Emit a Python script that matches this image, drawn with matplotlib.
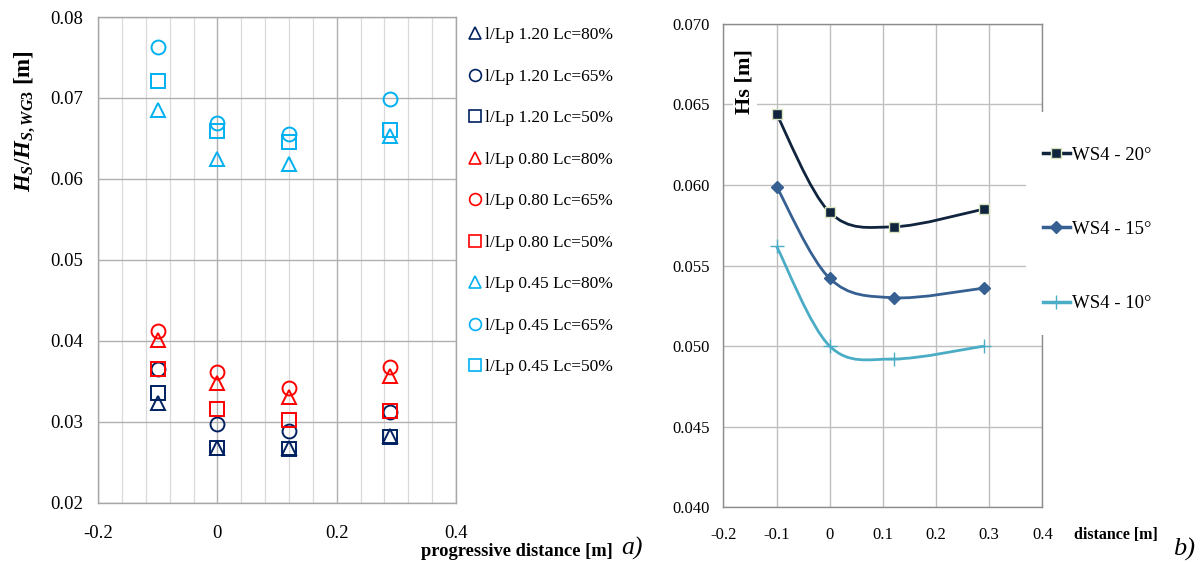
import numpy as np
import matplotlib
matplotlib.use("Agg")
import matplotlib.pyplot as plt
from matplotlib.path import Path
from matplotlib.patches import PathPatch, Rectangle
from matplotlib.lines import Line2D

plt.rcParams['font.family'] = ['Liberation Serif', 'DejaVu Serif']
plt.rcParams['mathtext.fontset'] = 'custom'
plt.rcParams['mathtext.it'] = 'Liberation Serif:italic:bold'
plt.rcParams['mathtext.rm'] = 'Liberation Serif:bold'
plt.rcParams['mathtext.bf'] = 'Liberation Serif:bold'

# ---- a) scatter: wave height ratio vs progressive distance ----
dist_a = [-0.1, 0.0, 0.12, 0.29]

# l/Lp = 1.20
r120_80 = [0.0323, 0.0267, 0.0267, 0.0282]
r120_65 = [0.0365, 0.0297, 0.0288, 0.0312]
r120_50 = [0.0336, 0.0267, 0.0266, 0.0281]
# l/Lp = 0.80
r080_80 = [0.0401, 0.0348, 0.0331, 0.0356]
r080_65 = [0.0412, 0.0361, 0.0342, 0.0368]
r080_50 = [0.0365, 0.0316, 0.0302, 0.0313]
# l/Lp = 0.45
r045_80 = [0.0685, 0.0625, 0.0619, 0.0653]
r045_65 = [0.0763, 0.0669, 0.0655, 0.0699]
r045_50 = [0.0721, 0.0659, 0.0645, 0.0660]

labels_a = ['l/Lp 1.20 Lc=80%', 'l/Lp 1.20 Lc=65%', 'l/Lp 1.20 Lc=50%',
            'l/Lp 0.80 Lc=80%', 'l/Lp 0.80 Lc=65%', 'l/Lp 0.80 Lc=50%',
            'l/Lp 0.45 Lc=80%', 'l/Lp 0.45 Lc=65%', 'l/Lp 0.45 Lc=50%']
series_a = [r120_80, r120_65, r120_50, r080_80, r080_65, r080_50,
            r045_80, r045_65, r045_50]

# ---- b) Hs along distance for the three wave directions ----
dist_b = [-0.1, 0.0, 0.12, 0.29]
hs_20 = [0.0644, 0.0583, 0.0574, 0.0585]
hs_15 = [0.0599, 0.0542, 0.0530, 0.0536]
hs_10 = [0.0562, 0.0500, 0.0492, 0.0500]
labels_b = ['WS4 - 20°', 'WS4 - 15°', 'WS4 - 10°']

navy = '#002060'
red = '#FF0000'
sky = '#00B0F0'
colors_a = [navy] * 3 + [red] * 3 + [sky] * 3
markers_a = ['^', 'o', 's'] * 3
msize_a = [10, 10, 9.5] * 3


def smooth_path(xs, ys):
    # Excel-like smoothed line: cubic Bezier through each point
    pts = np.column_stack([xs, ys])
    n = len(pts)
    verts = [pts[0]]
    codes = [Path.MOVETO]
    for i in range(n - 1):
        p0 = pts[i - 1] if i > 0 else pts[i]
        p1 = pts[i]
        p2 = pts[i + 1]
        p3 = pts[i + 2] if i + 2 < n else pts[i + 1]
        c1 = p1 + (p2 - p0) / 6.0
        c2 = p2 - (p3 - p1) / 6.0
        verts += [c1, c2, p2]
        codes += [Path.CURVE4] * 3
    return Path(verts, codes)


W, H = 1203, 562
fig = plt.figure(figsize=(W / 100, H / 100), dpi=100)

# ---------------- left panel ----------------
ax1 = fig.add_axes([0.0815, 0.1055, 0.2976, 0.8642])
for ys, c, m, ms, lab in zip(series_a, colors_a, markers_a, msize_a, labels_a):
    ax1.plot(dist_a, ys, linestyle='none', marker=m, markersize=ms,
             markerfacecolor='none', markeredgecolor=c, markeredgewidth=1.4,
             label=lab, zorder=3)

ax1.set_xlim(-0.2, 0.4)
ax1.set_ylim(0.02, 0.08)
ax1.set_xticks([-0.2, 0.0, 0.2, 0.4])
ax1.set_xticklabels(['-0.2', '0', '0.2', '0.4'])
ax1.set_xticks(np.arange(-0.2, 0.41, 0.04), minor=True)
yt = np.arange(0.02, 0.081, 0.01)
ax1.set_yticks(yt)
ax1.set_yticklabels(['%.2f' % v for v in yt])
ax1.tick_params(axis='both', which='both', length=0, labelsize=13.5)
ax1.tick_params(axis='y', pad=11)
ax1.tick_params(axis='x', pad=16)
ax1.grid(True, which='major', color='#B0B0B0', linewidth=1.0)
ax1.grid(True, which='minor', axis='x', color='#D9D9D9', linewidth=0.9)
ax1.set_axisbelow(True)
for sp in ax1.spines.values():
    sp.set_color('#A6A6A6')
    sp.set_linewidth(1.0)

ax1.set_ylabel(r'$H_S/H_{S,WG3}$ [m]', fontsize=16.5, fontweight='bold')
ax1.yaxis.set_label_coords(-0.17, 0.786)

handles = [Line2D([], [], linestyle='none', marker=m, markersize=ms * 0.85,
                  markerfacecolor='none', markeredgecolor=c, markeredgewidth=1.2)
           for c, m, ms in zip(colors_a, markers_a, msize_a)]
fig.legend(handles, labels_a, loc='upper left',
           bbox_to_anchor=(470 / W, 1 - 27 / H), frameon=False,
           fontsize=12.5, handlelength=0.6, handletextpad=0.25,
           labelspacing=1.46, borderpad=0, borderaxespad=0)

fig.text(421 / W, 1 - 556 / H, 'progressive distance [m]',
         fontsize=13.3, fontweight='bold', ha='left', va='baseline')
fig.text(621 / W, 1 - 555 / H, 'a)', fontsize=18.5, fontstyle='italic',
         ha='left', va='baseline')

# ---------------- right panel ----------------
ax2 = fig.add_axes([0.6013, 0.0973, 0.2652, 0.8605])
styles_b = [
    dict(color='#10243E', marker='s', markersize=6.5, markerfacecolor='#10243E',
         markeredgecolor='#D7E4BD', markeredgewidth=1.0),
    dict(color='#376092', marker='D', markersize=6.5, markerfacecolor='#376092',
         markeredgecolor='#376092', markeredgewidth=1.0),
    dict(color='#4BACC6', marker='+', markersize=10, markeredgecolor='#4BACC6',
         markeredgewidth=1.0),
]
for ys, st, lab in zip([hs_20, hs_15, hs_10], styles_b, labels_b):
    ax2.add_patch(PathPatch(smooth_path(dist_b, ys), facecolor='none',
                            edgecolor=st['color'], linewidth=2.0, zorder=3))
    ax2.plot(dist_b, ys, linestyle='none', zorder=4,
             **{k: v for k, v in st.items() if k != 'color'})

ax2.set_xlim(-0.2, 0.4)
ax2.set_ylim(0.040, 0.070)
xt = np.arange(-0.2, 0.41, 0.1)
ax2.set_xticks(xt)
ax2.set_xticklabels(['-0.2', '-0.1', '0', '0.1', '0.2', '0.3', '0.4'])
yt2 = np.arange(0.040, 0.0701, 0.005)
ax2.set_yticks(yt2)
ax2.set_yticklabels(['%.3f' % v for v in yt2])
ax2.tick_params(axis='both', length=0, labelsize=12)
ax2.tick_params(axis='y', pad=10)
ax2.tick_params(axis='x', pad=14.5)
ax2.grid(True, color='#BFBFBF', linewidth=1.0)
ax2.set_axisbelow(True)
for sp in ax2.spines.values():
    sp.set_color('#8C8C8C')
    sp.set_linewidth(1.0)

# white block behind the legend, hiding the right border there
ax2.add_artist(Rectangle((1026 / W, 1 - 335 / H), 34 / W, 223 / H,
                         transform=fig.transFigure, facecolor='white',
                         edgecolor='none', clip_on=False, zorder=2.6))

handles_b = [Line2D([], [], linewidth=2.5, color=st['color'],
                    **{k: v for k, v in st.items() if k != 'color'})
             for st in styles_b]
ax2.legend(handles_b, labels_b, loc='upper left',
           bbox_to_anchor=(1024 / W, 1 - 128 / H),
           bbox_transform=fig.transFigure, fontsize=13.5,
           handlelength=1.45, handletextpad=0.1, labelspacing=3.04,
           borderpad=1.0, borderaxespad=0, frameon=False)

fig.text(745 / W, 1 - 82 / H, 'Hs [m]', rotation=90, fontsize=16,
         fontweight='bold', ha='center', va='center',
         bbox=dict(facecolor='white', edgecolor='none', pad=1.5))
fig.text(1116 / W, 1 - 535 / H, 'distance [m]', fontsize=11.5,
         fontweight='bold', ha='center', va='center')
fig.text(1184 / W, 1 - 549 / H, 'b)', fontsize=19, fontstyle='italic',
         ha='center', va='center')

fig.savefig('out.png', dpi=100)
